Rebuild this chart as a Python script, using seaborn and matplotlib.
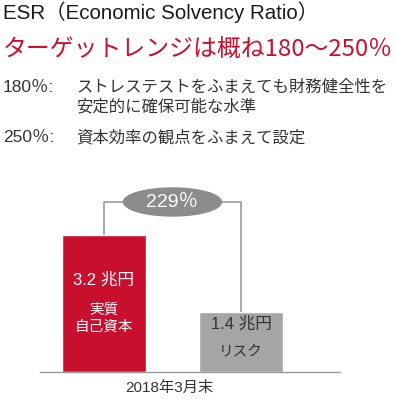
import matplotlib
matplotlib.use("Agg")
import matplotlib.pyplot as plt
from matplotlib.patches import Ellipse
import pandas as pd
import seaborn as sns

# 値（兆円）
categories = ["実質\n自己資本", "リスク"]
amounts = [3.2, 1.4]
amount_labels = ["3.2 兆円", "1.4 兆円"]
esr_label = "229％"
period = "2018年3月末"
bar_colors = ["#c8102e", "#a5a5a5"]

sns.set_theme(style="white")
plt.rcParams["font.family"] = ["Liberation Sans", "Noto Sans CJK JP", "DejaVu Sans"]
jp = ["Noto Sans CJK JP", "DejaVu Sans"]

W, H = 397, 400
fig = plt.figure(figsize=(W / 100, H / 100), dpi=100)


def px(x, y):
    return x / W, 1 - y / H


# 見出し
fig.text(*px(3, 12), "ESR（Economic Solvency Ratio）", fontsize=14.8, color="#1a1a1a", va="center")
fig.text(*px(3, 49), "ターゲットレンジは概ね180～250％", fontsize=17.2, color="#c8102e",
         va="center", family=jp)
fig.text(*px(3, 87), "180％:", fontsize=12.5, color="#333333", va="center")
fig.text(*px(76, 87), "ストレステストをふまえても財務健全性を", fontsize=11.8, color="#333333",
         va="center", family=jp)
fig.text(*px(76, 107), "安定的に確保可能な水準", fontsize=11.8, color="#333333",
         va="center", family=jp)
fig.text(*px(3, 138), "250％:", fontsize=12.5, color="#333333", va="center")
fig.text(*px(76, 138), "資本効率の観点をふまえて設定", fontsize=11.8, color="#333333",
         va="center", family=jp)

# 棒グラフ
ax = fig.add_axes([40 / W, 28 / H, 300 / W, 182 / H])
df = pd.DataFrame({"cat": categories, "amount": amounts})
sns.barplot(data=df, x="cat", y="amount", hue="cat", palette=bar_colors, width=0.613,
            saturation=1, legend=False, ax=ax, zorder=2)
ax.set_xlim(-0.467, 1.723)
ax.set_ylim(0, 4.25)
for s in ["top", "left", "right"]:
    ax.spines[s].set_visible(False)
ax.spines["bottom"].set_color("#9a9a9a")
ax.spines["bottom"].set_linewidth(1)
ax.set_xticks([])
ax.set_yticks([])
ax.set_xlabel("")
ax.set_ylabel("")

# ESR の吹き出し
top = 3.97
ax.plot([0, 0, 1, 1], [amounts[0], top, top, amounts[1]], color="#9a9a9a", lw=1.2, zorder=1,
        clip_on=False)
ax.add_patch(Ellipse((0.5, top), width=0.715, height=0.654, color="#8c8c8c", zorder=3,
                     clip_on=False))
ax.text(0.5, top, esr_label, color="white", fontsize=14, ha="center", va="center", zorder=4)

# 棒の中の文字
ax.text(0, 2.15, amount_labels[0], color="white", fontsize=12, ha="center", va="center")
ax.text(0, 1.26, categories[0], color="white", fontsize=10.5, ha="center", va="center",
        family=jp, linespacing=1.25)
ax.text(1, 1.12, amount_labels[1], color="#333333", fontsize=12, ha="center", va="center")
ax.text(1, 0.49, categories[1], color="#333333", fontsize=10.5, ha="center", va="center",
        family=jp)

fig.text(*px(169, 388), period, fontsize=11, color="#333333", ha="center", va="center")

fig.savefig("out.png", dpi=100)
